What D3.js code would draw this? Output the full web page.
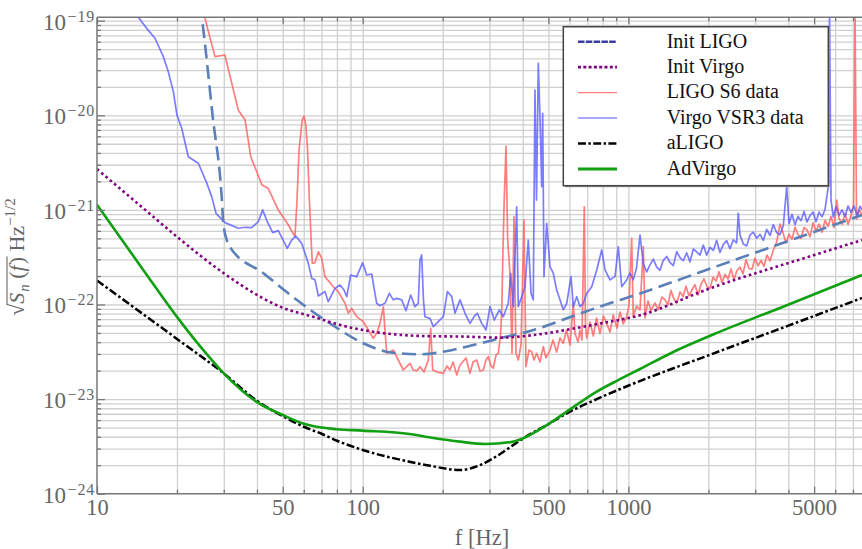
<!DOCTYPE html>
<html><head><meta charset="utf-8">
<script src="https://cdn.jsdelivr.net/npm/d3@7"></script>
<style>
html,body{margin:0;padding:0;background:#fff;}
svg{display:block;font-family:"Liberation Serif","Times New Roman",serif;}
</style></head><body>
<svg id="chart" width="862" height="549"></svg>
<script>
// ---------- data (frequency in Hz, amplitude spectral density in Hz^-1/2) ----------
const xLabelTicks = [10, 50, 100, 500, 1000, 5000];
const yDecadeTicks = [1e-24, 1e-23, 1e-22, 1e-21, 1e-20, 1e-19];
const seriesNames = ["Init LIGO", "Init Virgo", "LIGO S6 data", "Virgo VSR3 data", "aLIGO", "AdVirgo"];

const initLigo = [[24.4,1.5e-19],[24.8,1.08e-19],[27.26,9.7e-21],[29.46,1.38e-21],[29.9,7.2e-22],[30.8,4.8e-22],[31.6,4.08e-22],[42.3,2.14e-22],[56.4,1.12e-22],[75.4,6.3e-23],[100.5,3.89e-23],[123.1,3.17e-23],[138,3.05e-23],[164.3,2.98e-23],[246,3.58e-23],[328.6,4.4e-23],[438.6,5.37e-23],[586,7.14e-23],[782,9.5e-23],[1107,1.31e-22],[2000,2.36e-22],[5000,5.85e-22],[7570,8.83e-22]];

const initVirgo = [[10,2.7e-21],[15,1.03e-21],[20,5.2e-22],[30,2.14e-22],[41.1,1.21e-22],[48.8,9.5e-23],[65.2,7.4e-23],[87.1,5.83e-23],[116.2,5.03e-23],[164.3,4.65e-23],[246,4.57e-23],[328.6,4.46e-23],[438.6,4.75e-23],[586,5.4e-23],[782,6.3e-23],[1107,7.7e-23],[2000,1.46e-22],[5000,3.33e-22],[7570,4.8e-22]];

const ligoS6 = [[25.06,1.3e-19],[26.17,7.95e-20],[27.8,4.17e-20],[30.3,4.34e-20],[34.0,1.14e-20],[36.1,8.9e-21],[37.9,3.65e-21],[39.9,2.53e-21],[41.8,1.83e-21],[44.1,1.69e-21],
[48.1,1.0e-21],[49.6,8.84e-22],[52.5,6.92e-22],[55.6,5.2e-22],[56.6,1.27e-21],[57.6,4.3e-21],[59.2,8.9e-21],[60.1,9.8e-21],[61.1,7.9e-21],[62.0,4.3e-21],
[63.0,1.27e-21],[64.2,3.86e-22],[64.6,2.73e-22],[66.1,2.77e-22],[68.1,3.61e-22],[70.1,3.08e-22],[72.1,1.97e-22],[77.5,1.54e-22],[80.9,1.37e-22],[85.8,1.03e-22],
[88.3,8.08e-23],[90.9,9.1e-23],[95.0,7.43e-23],[100.5,6.58e-23],[105,5.37e-23],[109.6,4.39e-23],[112.9,4.96e-23],[116.2,6.32e-23],[119.6,9.5e-23],[121.3,5.37e-23],
[123.1,3.05e-23],[130.4,3.3e-23],[136.1,2.59e-23],[142.2,2.03e-23],[150.7,2.39e-23],[155.0,2.03e-23],[160.3,2.0e-23],[164.3,2.2e-23],[170.1,1.93e-23],[176.6,2.59e-23],
[180.3,5.6e-23],[183.4,2.03e-23],[190.4,1.93e-23],[201.1,1.87e-23],[207.6,2.24e-23],[213.1,2.03e-23],[218.8,2.47e-23],[225.9,1.8e-23],[232.4,2.29e-23],[244.8,2.72e-23],
[253.4,1.87e-23],[260.1,2.47e-23],[268.6,2.59e-23],[276.4,1.98e-23],[284.4,2.03e-23],[291.1,2.59e-23],[297,2.81e-23],[304,2.24e-23],[310,2.12e-23],[317.6,2.93e-23],
[323.9,3.05e-23],[330.1,4.76e-23],[333.5,8.08e-23],[337.3,3.77e-22],[340.3,1.08e-21],[346.2,4.73e-21],[351.3,4.8e-22],[358.4,2.14e-22],[364.7,3.05e-23],[371,8.45e-22],
[377.5,3.05e-23],[385.1,2.59e-23],[394.2,3.73e-23],[404.5,7.8e-22],[411.6,2.2e-23],[422.5,3.3e-23],[432.5,3.17e-23],[441.2,2.59e-23],[451.7,3.05e-23],[464.8,2.47e-23],
[478.3,3.58e-23],[489.6,2.72e-23],[506.9,3.3e-23],[520.2,4.21e-23],[537.2,3.14e-23],[552.8,4.42e-23],[568.9,3.89e-23],[584.8,5.37e-23],[603,3.73e-23],[620.3,1.03e-22],
[629.5,4.96e-23],[646.1,4.01e-23],[657.4,5.37e-23],[668.8,4.21e-23],[682.3,1.08e-21],[689.4,6.07e-23],[696.6,4.42e-23],[717,6.53e-23],[737.9,4.64e-23],[758.6,7.2e-23],
[781.9,4.96e-23],[805.9,7.55e-23],[828.5,6.32e-23],[852.5,5.12e-23],[877.2,7.75e-23],[906,5.64e-23],[930,8.33e-23],[956.8,6.22e-23],[985.4,7.43e-23],[1005,9.9e-23],
[1029,5.0e-22],[1043,7.43e-23],[1073,9.6e-23],[1106,8.75e-23],[1138,4.08e-22],[1155,7.2e-23],[1185,1.09e-22],[1216,8.6e-23],[1259,1.04e-22],[1292,8.8e-23],
[1338,1.2e-22],[1374,1.12e-22],[1409,9.95e-23],[1446,1.41e-22],[1484,1.14e-22],[1523,1.04e-22],[1564,1.36e-22],[1605,1.21e-22],[1648,1.56e-22],[1691,1.23e-22],
[1735,1.43e-22],[1781,1.62e-22],[1828,1.25e-22],[1876,1.64e-22],[1925,1.87e-22],[1976,1.54e-22],[2028,1.48e-22],[2082,1.94e-22],[2137,1.77e-22],[2193,2.22e-22],
[2250,1.71e-22],[2310,2.08e-22],[2371,1.86e-22],[2433,2.38e-22],[2497,1.83e-22],[2563,2.29e-22],[2630,2.48e-22],[2700,2.11e-22],[2771,2.97e-22],[2844,2.4e-22],
[2919,2.36e-22],[2996,3.1e-22],[3074,2.57e-22],[3156,2.92e-22],[3239,2.53e-22],[3324,3.33e-22],[3412,2.89e-22],[3511,3.77e-22],[3615,4.58e-22],[3721,7.1e-22],
[3818,5.72e-22],[3919,4.47e-22],[4022,5.55e-22],[4128,4.9e-22],[4238,6.55e-22],[4348,5.51e-22],[4463,4.99e-22],[4581,6.5e-22],[4701,6.17e-22],[4826,5.19e-22],
[4953,7.3e-22],[5083,5.98e-22],[5217,7.07e-22],[5355,5.81e-22],[5496,7.77e-22],[5640,6.68e-22],[5789,8.5e-22],[5942,6.5e-22],[6083,1.27e-21],[6205,8.2e-22],
[6370,7.06e-22],[6537,9.2e-22],[6709,7.03e-22],[6886,8.7e-22],[7036,1.13e-21],[7129,1.3e-19],[7222,8.03e-22],[7379,9.95e-22],[7577,8.8e-22]];

const virgoVSR3 = [[14.03,1.3e-19],[14.3,1.09e-19],[15.38,8.3e-20],[16.53,6.52e-20],[17.77,4.17e-20],[18.55,2.89e-20],[19.38,1.78e-20],[20.0,1.0e-20],[20.84,7.3e-21],[22.06,3.65e-21],
[24.06,3.11e-21],[25.87,1.93e-21],[27.02,1.38e-21],[28.05,9.2e-22],[30.32,7.33e-22],[34.02,6.4e-22],[36.06,6.55e-22],[38.2,6.5e-22],[40.47,7.5e-22],[42.04,1.0e-21],
[43.75,7.5e-22],[45.85,5.75e-22],[48.13,6.03e-22],[52.02,3.93e-22],[54.04,4.8e-22],[55.97,5.3e-22],[58.95,4.43e-22],[62.4,2.73e-22],[64.28,1.89e-22],[66.15,1.82e-22],
[68.08,1.23e-22],[72.1,1.37e-22],[74.2,1.07e-22],[78.65,1.48e-22],[82.15,1.61e-22],[85.06,1.42e-22],[87.1,1.21e-22],[90.1,2.05e-22],[94.9,1.97e-22],[100,2.77e-22],
[103.5,2.05e-22],[108.1,2.1e-22],[112.9,1.03e-22],[116.2,9.7e-23],[121.3,1.03e-22],[125.9,1.31e-22],[130.4,1.12e-22],[134.3,1.16e-22],[140.2,1.12e-22],[145.5,8.6e-23],
[151.6,1.26e-22],[157.3,9.5e-23],[161.9,1.03e-22],[164.3,2.95e-22],[166.7,3.34e-22],[169.3,1.12e-22],[171.5,7.43e-23],[179.2,7.14e-23],[184.4,5.83e-23],[192.6,6.58e-23],
[201.1,7.43e-23],[208.3,1.37e-22],[216.3,1.21e-22],[222.6,8.08e-23],[232.4,1.12e-22],[242.7,8.08e-23],[253.4,6.32e-23],[262.4,7.43e-23],[270,8.08e-23],[280.5,6.32e-23],
[291.1,5.37e-23],[301.4,9.5e-23],[312.8,6.84e-23],[326.7,8.75e-23],[338.1,7.43e-23],[353.2,1.03e-22],[360.6,2.14e-22],[368.8,9.5e-23],[379.8,1.08e-21],[385.1,9.5e-23],
[396.6,1.21e-22],[408.1,1.54e-22],[420,4.8e-22],[430,1.31e-22],[438.5,1.12e-22],[445,1.85e-20],[451,1.27e-21],[458,3.55e-20],[464.8,9.7e-21],[471.7,1.76e-21],
[475.8,1.05e-20],[481.2,1.97e-22],[492.5,7.2e-22],[506.9,2.51e-22],[521.6,2.14e-22],[537.2,1.42e-22],[552.8,1.12e-22],[568.9,8.75e-23],[586,1.03e-22],[608.1,1.97e-22],
[620.3,9.5e-23],[638.9,1.21e-22],[657.4,9.5e-23],[676.6,1.03e-22],[696.6,1.31e-22],[727.6,1.54e-22],[760,2.32e-22],[793.6,3.77e-22],[816.6,2.32e-22],[852.7,1.82e-22],
[890.5,1.97e-22],[916.3,4.08e-22],[943.7,1.54e-22],[985.4,1.82e-22],[1014,2.14e-22],[1043,1.82e-22],[1073,2.43e-22],[1106,5.43e-22],[1138,2.69e-22],[1172,2.21e-22],
[1206,2.62e-22],[1241,3.02e-22],[1278,2.48e-22],[1315,2.3e-22],[1353,2.93e-22],[1394,3.22e-22],[1434,2.78e-22],[1476,2.58e-22],[1520,3.62e-22],[1564,3.13e-22],
[1609,2.9e-22],[1657,3.52e-22],[1705,2.82e-22],[1755,3.86e-22],[1807,3.59e-22],[1859,3.33e-22],[1914,4.24e-22],[1971,3.32e-22],[2028,4.02e-22],[2087,3.73e-22],
[2149,4.76e-22],[2211,3.55e-22],[2276,4.3e-22],[2343,4.73e-22],[2412,3.89e-22],[2482,4.83e-22],[2556,4.49e-22],[2591,9.2e-22],[2630,5.44e-22],[2706,4.37e-22],
[2787,4.16e-22],[2867,5.41e-22],[2951,5.81e-22],[3040,5.02e-22],[3128,5.52e-22],[3220,4.76e-22],[3315,6.22e-22],[3412,5.36e-22],[3511,6.99e-22],[3615,5.76e-22],
[3720,5.47e-22],[3828,6.8e-22],[3943,1.76e-21],[4022,7.17e-22],[4128,9.0e-22],[4238,6.97e-22],[4347,8.55e-22],[4462,7.69e-22],[4581,9.64e-22],[4700,7.46e-22],
[4826,8.72e-22],[4953,9.49e-22],[5082,7.51e-22],[5216,9.47e-22],[5355,8.45e-22],[5495,1.01e-21],[5655,1.76e-21],[5715,1.3e-19],[5789,1.27e-21],[5906,8.37e-22],
[6046,1.08e-21],[6205,8.77e-22],[6370,1.0e-21],[6537,8.53e-22],[6709,1.1e-21],[6887,9.37e-22],[7068,1.1e-21],[7254,8.68e-22],[7445,1.09e-21],[7570,1.0e-21]];

const aLigo = [[10,1.79e-22],[20,4.33e-23],[30,1.87e-23],[40,9.6e-24],[50,6.6e-24],[60,5.1e-24],[70,4.3e-24],[80,3.63e-24],[100,2.9e-24],[150,2.18e-24],[180,1.97e-24],[232,1.78e-24],[276,2.0e-24],[320,2.5e-24],[402,3.85e-24],[493,5.32e-24],[603,7.37e-24],[760,1.0e-23],[1014,1.41e-23],[2000,2.9e-23],[4000,5.98e-23],[7570,1.17e-22]];

const adVirgo = [[10,1.13e-21],[15,2.28e-22],[20,7.4e-23],[25,3.35e-23],[30,1.87e-23],[40,9.3e-24],[50,6.8e-24],[60,5.5e-24],[70,5.0e-24],[80,4.8e-24],[100,4.64e-24],[150,4.28e-24],[180,3.93e-24],[232,3.55e-24],[290,3.35e-24],[369,3.55e-24],[402,3.85e-24],[493,5.3e-24],[603,7.8e-24],[760,1.2e-23],[916,1.59e-23],[1106,2.08e-23],[1475,3.15e-23],[2212,5.17e-23],[3720,9.2e-23],[7570,2.05e-22]];

// ---------- layout ----------
const X0 = 97, YB = 493.7, YT = 17.3;
const svg = d3.select("#chart");
svg.append("rect").attr("width", 862).attr("height", 549).attr("fill", "#fff");

const x = d3.scaleLog().domain([10, 8000]).range([X0, X0 + 265.7 * Math.log10(800)]);
const y = d3.scaleLog().domain([1e-24, 1.086e-19]).range([YB, YT]);
const XR = x.range()[1];

const xGrid = [], xMinor = [];
[10, 100, 1000].forEach(d => { for (let m = 1; m <= 9; m++) { const v = m * d; if (v > 10 && v <= 8000) xGrid.push(v); } });
xGrid.forEach(v => { if (!xLabelTicks.includes(v)) xMinor.push(v); });
const yGrid = [], yMinor = [];
[-24, -23, -22, -21, -20].forEach(k => { for (let m = 1; m <= 9; m++) yGrid.push(m * Math.pow(10, k)); });
yGrid.push(1e-19);
yGrid.forEach(v => { if (!yDecadeTicks.some(t => Math.abs(t - v) / v < 1e-6)) yMinor.push(v); });

const gridColor = "#d0d0d0";
const gGridX = svg.append("g").attr("transform", `translate(0,${YB})`)
  .call(d3.axisBottom(x).tickValues(xGrid).tickSize(-(YB - YT)).tickFormat(""));
const gGridY = svg.append("g").attr("transform", `translate(${X0},0)`)
  .call(d3.axisLeft(y).tickValues(yGrid.filter(v => v > 1.0001e-24)).tickSize(-(XR - X0)).tickFormat(""));
[gGridX, gGridY].forEach(g => { g.select(".domain").remove(); g.selectAll("line").attr("stroke", gridColor).attr("stroke-width", 1.3); });

// ---------- curves ----------
svg.append("defs").append("clipPath").attr("id", "plotclip")
  .append("rect").attr("x", X0).attr("y", YT).attr("width", XR - X0).attr("height", YB - YT);
const plot = svg.append("g").attr("clip-path", "url(#plotclip)");
const smooth = d3.line().x(d => x(d[0])).y(d => y(d[1])).curve(d3.curveMonotoneX);
const raw = d3.line().x(d => x(d[0])).y(d => y(d[1]));

plot.append("path").datum(ligoS6).attr("d", raw).attr("fill", "none")
  .attr("stroke", "#ff5a5a").attr("stroke-opacity", 0.78).attr("stroke-width", 1.7).attr("stroke-linejoin", "round");
plot.append("path").datum(virgoVSR3).attr("d", raw).attr("fill", "none")
  .attr("stroke", "#5858ff").attr("stroke-opacity", 0.78).attr("stroke-width", 1.7).attr("stroke-linejoin", "round");
plot.append("path").datum(initLigo).attr("d", smooth).attr("fill", "none")
  .attr("stroke", "#5b7fb8").attr("stroke-width", 2.6).attr("stroke-dasharray", "14,6.5");
plot.append("path").datum(initVirgo).attr("d", smooth).attr("fill", "none")
  .attr("stroke", "#800080").attr("stroke-width", 2.6).attr("stroke-dasharray", "2.6,3");
plot.append("path").datum(aLigo).attr("d", smooth).attr("fill", "none")
  .attr("stroke", "#000").attr("stroke-width", 2.5).attr("stroke-dasharray", "8,2.6,2.6,2.6");
plot.append("path").datum(adVirgo).attr("d", smooth).attr("fill", "none")
  .attr("stroke", "#11a011").attr("stroke-width", 2.6);

// ---------- axes / frame ----------
const axisColor = "#777", labelColor = "#666";
function styleAxis(g) { g.select(".domain").remove(); g.selectAll("line").attr("stroke", axisColor).attr("stroke-width", 1.3); }

const gxMaj = svg.append("g").attr("transform", `translate(0,${YB})`)
  .call(d3.axisBottom(x).tickValues(xLabelTicks).tickSize(-7).tickFormat(d3.format("d")));
styleAxis(gxMaj);
gxMaj.selectAll("text").attr("y", 21.5).attr("dy", 0).attr("fill", labelColor)
  .attr("font-size", 22.5).attr("font-family", "Liberation Serif, serif");
const gxMin = svg.append("g").attr("transform", `translate(0,${YB})`)
  .call(d3.axisBottom(x).tickValues(xMinor).tickSize(-4).tickFormat(""));
styleAxis(gxMin);
const gxTop = svg.append("g").attr("transform", `translate(0,${YT})`)
  .call(d3.axisTop(x).tickValues(xLabelTicks).tickSize(-7).tickFormat(""));
styleAxis(gxTop);
const gxTopMin = svg.append("g").attr("transform", `translate(0,${YT})`)
  .call(d3.axisTop(x).tickValues(xMinor).tickSize(-4).tickFormat(""));
styleAxis(gxTopMin);

const gyMaj = svg.append("g").attr("transform", `translate(${X0},0)`)
  .call(d3.axisLeft(y).tickValues(yDecadeTicks).tickSize(-8).tickFormat(""));
styleAxis(gyMaj);
gyMaj.selectAll(".tick text").each(function (d) {
  const t = d3.select(this).attr("x", -2).attr("dy", 0).attr("y", 8.5)
    .attr("text-anchor", "end").attr("fill", labelColor).attr("font-family", "Liberation Serif, serif");
  t.text(null);
  t.append("tspan").attr("font-size", 23).text("10");
  t.append("tspan").attr("font-size", 16).attr("dx", 1.5).attr("dy", -8).attr("letter-spacing", 0.8)
    .text("\u2212" + Math.abs(Math.round(Math.log10(d))));
});
const gyMin = svg.append("g").attr("transform", `translate(${X0},0)`)
  .call(d3.axisLeft(y).tickValues(yMinor).tickSize(-4).tickFormat(""));
styleAxis(gyMin);

svg.append("line").attr("x1", X0).attr("x2", X0).attr("y1", YT).attr("y2", YB).attr("stroke", axisColor).attr("stroke-width", 1.5);
svg.append("line").attr("x1", X0).attr("x2", XR).attr("y1", YB).attr("y2", YB).attr("stroke", axisColor).attr("stroke-width", 1.5);
svg.append("line").attr("x1", X0).attr("x2", XR).attr("y1", YT).attr("y2", YT).attr("stroke", axisColor).attr("stroke-width", 1.5);

// x title
svg.append("text").attr("x", 482).attr("y", 545).attr("text-anchor", "middle")
  .attr("font-size", 22.5).attr("fill", labelColor).text("f [Hz]");

// y title (rotated, built from pieces)
const tg = svg.append("g").attr("transform", "translate(24,257) rotate(-90)");
const parts = [
  { t: "\u221A", size: 22 },
  { t: "S", size: 22, italic: true, over: true },
  { t: "n", size: 15, italic: true, dy: 5, over: true },
  { t: "\u2009(", size: 22, over: true },
  { t: "f", size: 22, italic: true, over: true },
  { t: ")", size: 22, over: true },
  { t: "\u00A0Hz", size: 22 },
  { t: "\u22121/2", size: 15, dy: -9 }
];
let cx = 0, o0 = null, o1 = null;
const pieces = parts.map(p => {
  const el = tg.append("text").attr("x", cx).attr("y", p.dy || 0).attr("font-size", p.size)
    .attr("font-style", p.italic ? "italic" : "normal").attr("fill", labelColor).text(p.t);
  const w = el.node().getComputedTextLength();
  if (p.over) { if (o0 === null) o0 = cx; o1 = cx + w; }
  cx += w + (p.italic ? 1 : 0);
  return el;
});
const shift = -cx / 2;
pieces.forEach(el => el.attr("x", +el.attr("x") + shift));
tg.append("line").attr("x1", o0 + shift - 0.5).attr("x2", o1 + shift + 0.5).attr("y1", -17).attr("y2", -17)
  .attr("stroke", labelColor).attr("stroke-width", 1.1);

// ---------- legend ----------
const lg = svg.append("g");
const LX = 563.3, LY = 26.7, LW = 265, LH = 159;
lg.append("rect").attr("x", LX + 1.5).attr("y", LY + 1.5).attr("width", LW).attr("height", LH).attr("fill", "#999");
lg.append("rect").attr("x", LX).attr("y", LY).attr("width", LW).attr("height", LH)
  .attr("fill", "#fff").attr("stroke", "#444").attr("stroke-width", 1.5);
const legendStyles = [
  { stroke: "#3c3ca8", w: 2.6, dash: "6.5,1.3", op: 1 },
  { stroke: "#800080", w: 2.6, dash: "3,2.3", op: 1 },
  { stroke: "#ff5a5a", w: 1.3, dash: null, op: 0.78 },
  { stroke: "#5858ff", w: 1.5, dash: null, op: 0.7 },
  { stroke: "#000", w: 2.6, dash: "8,2.4,2.4,2.4", op: 1 },
  { stroke: "#11a011", w: 2.8, dash: null, op: 1 }
];
seriesNames.forEach((name, i) => {
  const cy = 41.7 + i * 25.46;
  const s = legendStyles[i];
  lg.append("line").attr("x1", 578).attr("x2", 617).attr("y1", cy).attr("y2", cy)
    .attr("stroke", s.stroke).attr("stroke-width", s.w).attr("stroke-opacity", s.op)
    .attr("stroke-dasharray", s.dash);
  lg.append("text").attr("x", 666.7).attr("y", cy + 5.8).attr("font-size", 20).attr("fill", "#111").text(name);
});
</script>
</body></html>
